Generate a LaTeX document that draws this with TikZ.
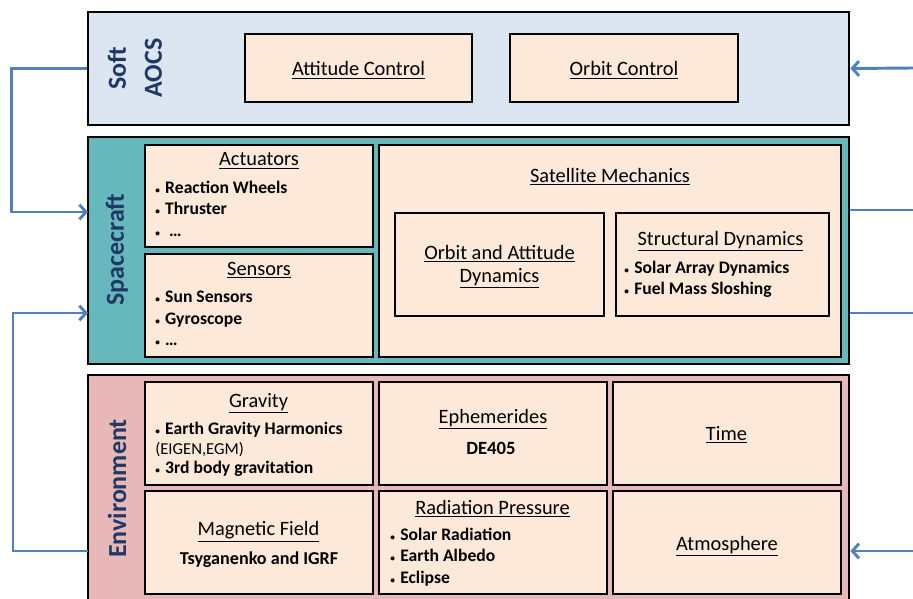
\documentclass[tikz,border=0pt]{standalone}
\usepackage{fontspec}
\setmainfont{Carlito}
\usetikzlibrary{arrows.meta, positioning}

\definecolor{aocsblue}{HTML}{DCE6F2}
\definecolor{scteal}{HTML}{66B8BC}
\definecolor{envpink}{HTML}{E6B9B8}
\definecolor{boxpeach}{HTML}{FDE9D9}
\definecolor{linkblue}{HTML}{4F81BD}
\definecolor{labnavy}{HTML}{1F3864}

\newcommand{\bul}{{\scriptsize\textbullet}\hspace{4pt}}

\begin{document}
\begin{tikzpicture}[
    x=0.75pt, y=-0.75pt,
    panel/.style = {rectangle, draw, line width=2pt, inner sep=0pt, minimum width=570.75pt},
    box/.style   = {rectangle, draw, line width=2pt, fill=boxpeach, inner sep=0pt, minimum width=171pt, minimum height=77.25pt},
    side/.style  = {rotate=90, text=labnavy, align=center, inner sep=0pt, font=\bfseries\fontsize{19.5}{27}\selectfont},
    head/.style  = {anchor=base, inner sep=0pt, font=\fontsize{15.3}{17}\selectfont},
    items/.style = {anchor=north west, align=left, inner sep=0pt, font=\bfseries\fontsize{13.2}{16}\selectfont},
    link/.style  = {draw=linkblue, line width=2.2pt},
    arrow/.style = {link, -{Straight Barb[length=5pt, width=11pt]}}
]
\clip (0,0) rectangle (913,599);

% --- Soft AOCS ---
\node[panel, fill=aocsblue, minimum height=84.75pt] (aocs) at (468.5,68.5) {};
\node[side] (aocslab) at (135,68) {Soft\\AOCS};
\node[box, minimum width=170.25pt, minimum height=51pt] (attctl) at (358.5,68) {};
\node[box, minimum height=51pt] (orbctl) at (624,68) {};
\node[head] at (358.5,76) {\underline{Attitude Control}};
\node[head] at (624,76) {\underline{Orbit Control}};

% --- Spacecraft ---
\node[panel, fill=scteal, minimum height=170.25pt] (sc) at (468.5,250.5) {};
\node[side] (sclab) at (117,249.5) {Spacecraft};
\node[box, minimum height=76.5pt] (act) at (259,196) {};
\node[box] (sens) at (259,305.5) {};
\node[box, minimum width=346.5pt, minimum height=159pt] (mech) at (610,251) {};
\node[box, minimum width=156.75pt] (orbdyn) at (499.5,264.5) {};
\node[box, minimum width=159.75pt] (strdyn) at (722.5,264.5) {};

\node[head] at (259,166) {\underline{Actuators}};
\node[items] (actlist) at (155,181) {\bul Reaction Wheels\\ \bul Thruster\\ \bul\ \ldots};
\node[head] at (259,275.7) {\underline{Sensors}};
\node[items] (senslist) at (155,291) {\bul Sun Sensors\\ \bul Gyroscope\\ \bul \ldots};
\node[head] at (610,182.7) {\underline{Satellite Mechanics}};
\node[head, anchor=north, align=center] at (499.5,245) {\underline{Orbit and Attitude}\\ \underline{Dynamics}};
\node[head] at (720.5,245) {\underline{Structural Dynamics}};
\node[items] (strlist) at (624,261) {\bul Solar Array Dynamics\\ \bul Fuel Mass Sloshing};

% --- Environment ---
\node[panel, fill=envpink, minimum height=172.5pt] (env) at (468.5,490) {};
\node[side] (envlab) at (117,488.5) {Environment};
\node[box] (grav) at (259,433.5) {};
\node[box] (ephem) at (493,433.5) {};
\node[box] (time) at (727,433.5) {};
\node[box] (magf) at (259,542.5) {};
\node[box] (radp) at (493,542.5) {};
\node[box] (atmo) at (727,542.5) {};

\node[head] at (258.5,407) {\underline{Gravity}};
\node[items, font=\bfseries\fontsize{13.2}{14.6}\selectfont] (gravlist) at (155,422) {\bul Earth Gravity Harmonics\\ {\mdseries\fontsize{12.5}{12}\selectfont (EIGEN,EGM)}\\ \bul 3rd body gravitation};
\node[head] at (493,423.3) {\underline{Ephemerides}};
\node[head, font=\bfseries\fontsize{14}{15}\selectfont] at (491,454.7) {DE405};
\node[head] at (726.5,440) {\underline{Time}};
\node[head] at (258.5,535.7) {\underline{Magnetic Field}};
\node[head, font=\bfseries\fontsize{13.6}{15}\selectfont] at (259,564) {Tsyganenko and IGRF};
\node[head] at (492.5,514) {\underline{Radiation Pressure}};
\node[items] (radlist) at (390,528) {\bul Solar Radiation\\ \bul Earth Albedo\\ \bul Eclipse};
\node[head] at (727,550) {\underline{Atmosphere}};

% --- Connectors ---
\coordinate (scinA) at (88,212);
\coordinate (scinB) at (88,313);
\coordinate (envout) at (88,551);
\coordinate (edgeA) at (913,68);
\coordinate (edgeB) at (913,210);
\coordinate (edgeC) at (913,313);
\coordinate (edgeD) at (913,551);

\draw[arrow] (aocs.west) -- ++(-75,0) |- (scinA);
\draw[arrow] (envout) -- ++(-75,0) |- (scinB);
\draw[arrow] (edgeA) -- (aocs.east);
\draw[link] (sc.east |- edgeB) -- (edgeB);
\draw[link] (sc.east |- edgeC) -- (edgeC);
\draw[arrow] (edgeD) -- (env.east |- edgeD);

\end{tikzpicture}
\end{document}
